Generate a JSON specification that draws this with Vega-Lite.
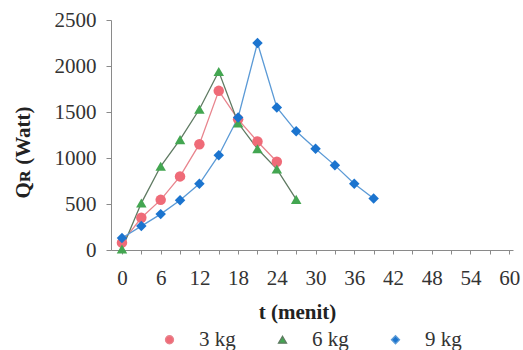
{
  "$schema": "https://vega.github.io/schema/vega-lite/v6.json",
  "autosize": {"type": "none"},
  "width": 402,
  "height": 230,
  "padding": {"left": 111, "top": 20, "right": 10, "bottom": 100},
  "background": "white",
  "config": {
    "font": "Liberation Serif",
    "view": {"stroke": null},
    "axis": {"grid": false, "domainColor": "#8a8a8a", "tickColor": "#8a8a8a", "labelFont": "Liberation Serif", "labelFontSize": 21, "labelColor": "#333333", "titleFont": "Liberation Serif", "titleFontSize": 21, "titleColor": "#222222", "titleFontWeight": "bold"},
    "legend": {"title": null, "orient": "none", "legendX": 48, "legendY": 309, "direction": "horizontal", "symbolSize": 64, "labelOffset": 19, "columnPadding": 36, "labelFont": "Liberation Serif", "labelFontSize": 21, "labelColor": "#333333", "symbolOpacity": 1, "symbolStrokeWidth": 1.3}
  },
  "data": {
    "values": [
      {"t": 0, "q": 80, "series": "3 kg"},
      {"t": 3, "q": 350, "series": "3 kg"},
      {"t": 6, "q": 545, "series": "3 kg"},
      {"t": 9, "q": 800, "series": "3 kg"},
      {"t": 12, "q": 1150, "series": "3 kg"},
      {"t": 15, "q": 1730, "series": "3 kg"},
      {"t": 18, "q": 1420, "series": "3 kg"},
      {"t": 21, "q": 1180, "series": "3 kg"},
      {"t": 24, "q": 960, "series": "3 kg"},
      {"t": 0, "q": 10, "series": "6 kg"},
      {"t": 3, "q": 510, "series": "6 kg"},
      {"t": 6, "q": 910, "series": "6 kg"},
      {"t": 9, "q": 1200, "series": "6 kg"},
      {"t": 12, "q": 1530, "series": "6 kg"},
      {"t": 15, "q": 1940, "series": "6 kg"},
      {"t": 18, "q": 1380, "series": "6 kg"},
      {"t": 21, "q": 1100, "series": "6 kg"},
      {"t": 24, "q": 880, "series": "6 kg"},
      {"t": 27, "q": 550, "series": "6 kg"},
      {"t": 0, "q": 130, "series": "9 kg"},
      {"t": 3, "q": 260, "series": "9 kg"},
      {"t": 6, "q": 390, "series": "9 kg"},
      {"t": 9, "q": 540, "series": "9 kg"},
      {"t": 12, "q": 720, "series": "9 kg"},
      {"t": 15, "q": 1030, "series": "9 kg"},
      {"t": 18, "q": 1440, "series": "9 kg"},
      {"t": 21, "q": 2250, "series": "9 kg"},
      {"t": 24, "q": 1550, "series": "9 kg"},
      {"t": 27, "q": 1290, "series": "9 kg"},
      {"t": 30, "q": 1100, "series": "9 kg"},
      {"t": 33, "q": 920, "series": "9 kg"},
      {"t": 36, "q": 720, "series": "9 kg"},
      {"t": 39, "q": 560, "series": "9 kg"}
    ]
  },
  "encoding": {
    "x": {
      "field": "t", "type": "quantitative",
      "scale": {"domain": [-1.7, 60.6], "nice": false, "zero": false},
      "axis": {
        "values": [0, 3, 6, 9, 12, 15, 18, 21, 24, 27, 30, 33, 36, 39, 42, 45, 48, 51, 54, 57, 60],
        "labelExpr": "datum.value % 6 == 0 ? datum.label : ''",
        "format": "d",
        "labelFont": "Liberation Serif", "labelFontSize": 21,
        "tickSize": 4, "labelPadding": 13, "labelFlush": false,
        "title": "t (menit)", "titleX": 186, "titleY": 62, "titleAlign": "center", "titleBaseline": "middle"
      }
    },
    "y": {
      "field": "q", "type": "quantitative",
      "scale": {"domain": [0, 2500], "nice": false},
      "axis": {
        "values": [0, 500, 1000, 1500, 2000, 2500],
        "format": "d",
        "labelFont": "Liberation Serif", "labelFontSize": 21,
        "tickSize": 5, "labelPadding": 10,
        "title": "Qʀ   (Watt)", "titleX": -88, "titleY": 132, "titleAngle": -90, "titleAlign": "center", "titleBaseline": "middle"
      }
    }
  },
  "layer": [
    {
      "mark": {"type": "line", "strokeWidth": 1.3},
      "encoding": {
        "stroke": {"field": "series", "type": "nominal",
          "scale": {"domain": ["3 kg", "6 kg", "9 kg"], "range": ["#e8848d", "#5f7a62", "#5b9ad6"]}}
      }
    },
    {
      "mark": {"type": "point", "filled": true, "opacity": 1, "size": 110},
      "encoding": {
        "color": {"field": "series", "type": "nominal",
          "scale": {"domain": ["3 kg", "6 kg", "9 kg"], "range": ["#ef6b78", "#43a651", "#1b74cf"]}},
        "shape": {"field": "series", "type": "nominal",
          "scale": {"domain": ["3 kg", "6 kg", "9 kg"], "range": ["circle", "triangle-up", "diamond"]}}
      }
    }
  ]
}
